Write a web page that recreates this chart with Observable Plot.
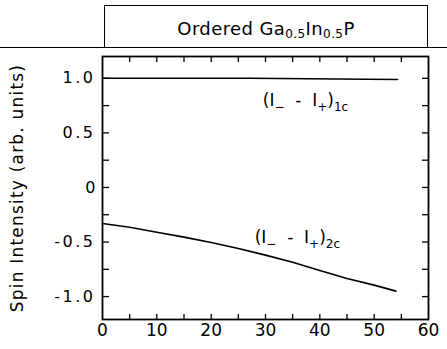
<!DOCTYPE html>
<html><head><meta charset="utf-8">
<script src="https://cdn.jsdelivr.net/npm/d3@7"></script>
<script src="https://cdn.jsdelivr.net/npm/@observablehq/plot@0.6"></script>
<style>
body{margin:0;background:#fff;font-family:"DejaVu Sans",sans-serif;color:#000}
#wrap{position:relative;width:447px;height:349px;overflow:hidden}
#head{position:relative;height:48px;border-bottom:1.5px solid #000;box-sizing:border-box}
#box{position:absolute;left:104px;top:5px;width:324px;height:43px;border:1.5px solid #000;border-bottom:none;box-sizing:border-box;text-align:center;font-size:18px;letter-spacing:0.4px;line-height:20px;padding-top:13px}
#box sub{font-size:12px;vertical-align:-3px;line-height:0}
#chart{position:relative;width:447px;height:301px}
#chart svg{display:block;position:absolute;left:0;top:0}
</style></head>
<body><div id="wrap"><div id="head"><div id="box">Ordered Ga<sub>0.5</sub>In<sub>0.5</sub>P</div></div><div id="chart"></div></div>
<script>
// Series 1c: (I- - I+)1c
const x1c = [0, 27, 54.3];
const y1c = [1.0, 1.0, 0.99];
// Series 2c: (I- - I+)2c
const x2c = [0, 5, 10, 15, 20, 25, 30, 35, 40, 45, 50, 54];
const y2c = [-0.33, -0.365, -0.41, -0.455, -0.505, -0.56, -0.62, -0.685, -0.76, -0.835, -0.895, -0.95];
// Series labels
const labelNames = ["1c", "2c"];
const labelX = [29.5, 28.0];
const labelY = [0.80, -0.46];
// Ticks
const xTickLabels = [0, 10, 20, 30, 40, 50, 60];
const xMinorTicks = [5, 10, 15, 20, 25, 30, 35, 40, 45, 50, 55];
const yTickLabels = [-1.0, -0.5, 0, 0.5, 1.0];
const yMinorTicks = [-1.0, -0.75, -0.5, -0.25, 0, 0.25, 0.5, 0.75, 1.0];
// Axis limits
const xLimits = [0, 60];
const yLimits = [-1.21, 1.2];

const s1 = x1c.map((x, i) => ({x, y: y1c[i]}));
const s2 = x2c.map((x, i) => ({x, y: y2c[i]}));
const labels = labelNames.map((n, i) => ({n, x: labelX[i], y: labelY[i]}));
const fmt = d => d === 0 ? "0" : (d < 0 ? "-" : "") + Math.abs(d).toFixed(1);

const dims = {width: 447, height: 301, marginTop: 8, marginBottom: 30, marginLeft: 102, marginRight: 19,
  x: {domain: xLimits}, y: {domain: yLimits}};

// Layer 1: text (tick labels, axis label, series labels)
const textLayer = Plot.plot({
  ...dims,
  style: {fontFamily: "DejaVu Sans, sans-serif", color: "#000", background: "#fff"},
  marks: [
    Plot.axisX(xTickLabels, {anchor: "bottom", tickSize: 0, tickPadding: 4, fontSize: 17, label: null}),
    Plot.axisY(yTickLabels, {anchor: "left", tickSize: 0, tickPadding: 7, fontSize: 16, tickFormat: fmt,
      label: "Spin Intensity (arb. units)", labelAnchor: "center", labelOffset: 92, labelArrow: "none"}),
    Plot.text(labels, {x: "x", y: "y", text: d => "LBL" + d.n, textAnchor: "start", fontSize: 17, fill: "#000"})
  ]
});
// Layer 2: frame, ticks and curves
const lineLayer = Plot.plot({
  ...dims,
  style: {color: "#000", background: "transparent"},
  marks: [
    Plot.frame({stroke: "#000", strokeWidth: 1.8}),
    Plot.axisX(xMinorTicks, {anchor: "bottom", tickSize: -5, label: null, stroke: "#000", fill: "none", strokeWidth: 1.3}),
    Plot.axisX(xMinorTicks, {anchor: "top", tickSize: -5, label: null, stroke: "#000", fill: "none", strokeWidth: 1.3}),
    Plot.axisY(yMinorTicks, {anchor: "left", tickSize: -7, label: null, stroke: "#000", fill: "none", strokeWidth: 1.3}),
    Plot.axisY(yMinorTicks, {anchor: "right", tickSize: -7, label: null, stroke: "#000", fill: "none", strokeWidth: 1.3}),
    Plot.line(s1, {x: "x", y: "y", stroke: "#000", strokeWidth: 1.5}),
    Plot.line(s2, {x: "x", y: "y", stroke: "#000", strokeWidth: 1.6})
  ]
});
const host = document.getElementById("chart");
host.appendChild(textLayer);
host.appendChild(lineLayer);

textLayer.querySelectorAll("text").forEach(t => {
  const s = t.textContent;
  if (s.startsWith("LBL")) {
    const n = s.slice(3);
    const NS = "http://www.w3.org/2000/svg";
    t.textContent = "";
    const parts = [["(I", 0], ["\u2212", 1], ["\u00a0\u00a0-\u00a0\u00a0I", 0], ["+", 1], [")", 0], [n, 1]];
    let down = false;
    parts.forEach(([str, sub]) => {
      const ts = document.createElementNS(NS, "tspan");
      ts.textContent = str;
      if (sub) { ts.setAttribute("font-size", "12"); if (!down) { ts.setAttribute("dy", "5"); down = true; } }
      else if (down) { ts.setAttribute("dy", "-5"); down = false; }
      t.appendChild(ts);
    });
  }
  if (s === "Spin Intensity (arb. units)") { t.setAttribute("font-size", "17"); t.style.letterSpacing = "1.2px"; }
  if (/^-?\d\.\d$/.test(s)) t.style.letterSpacing = "2.5px";
});
</script></body></html>
